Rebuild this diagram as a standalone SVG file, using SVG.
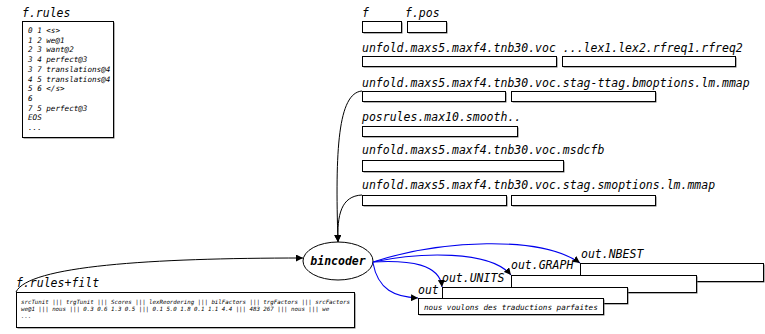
<svg xmlns="http://www.w3.org/2000/svg" width="765" height="334" viewBox="0 0 765 334">
  <style>
    text { font-family: "DejaVu Sans Mono", "Liberation Mono", monospace; font-style: italic; fill: #000; }
    .lbl { font-size: 11.5px; }
    .small { font-size: 7.6px; }
    .tiny { font-size: 5.75px; }
    .shadow { fill: #666; stroke: none; }
    .box { fill: #fff; stroke: #000; stroke-width: 1; }
    .edge { fill: none; stroke: #000; stroke-width: 1; }
    .blue { fill: none; stroke: #0000ee; stroke-width: 1.1; }
  </style>
  <defs>
    <marker id="arrow" viewBox="0 0 10 10" refX="10" refY="5" markerWidth="7" markerHeight="7" markerUnits="userSpaceOnUse" orient="auto">
      <path d="M0,0 L10,5 L0,10 z" fill="#000"/>
    </marker>
  </defs>

  <rect width="765" height="334" fill="#fff"/>

  <!-- source file listing -->
  <g id="f-rules">
    <text class="lbl" x="22" y="16.5">f.rules</text>
    <rect class="shadow" x="23.5" y="22.5" width="91" height="116"/>
    <rect class="box" x="22.5" y="21.5" width="91" height="116"/>
    <text class="small" x="28" y="33">0 1 &lt;s&gt;</text>
    <text class="small" x="28" y="42.7">1 2 we@1</text>
    <text class="small" x="28" y="52.4">2 3 want@2</text>
    <text class="small" x="28" y="62.1">3 4 perfect@3</text>
    <text class="small" x="28" y="71.8">3 7 translations@4</text>
    <text class="small" x="28" y="81.5">4 5 translations@4</text>
    <text class="small" x="28" y="91.2">5 6 &lt;/s&gt;</text>
    <text class="small" x="28" y="100.9">6</text>
    <text class="small" x="28" y="110.6">7 5 perfect@3</text>
    <text class="small" x="28" y="120.3">EOS</text>
    <text class="small" x="28" y="130">...</text>
  </g>

  <!-- input files -->
  <g id="f">
    <text class="lbl" x="362" y="17">f</text>
    <rect class="shadow" x="363.5" y="22.5" width="39" height="11"/>
    <rect class="box" x="362.5" y="21.5" width="39" height="11"/>
  </g>
  <g id="f-pos">
    <text class="lbl" x="405" y="17">f.pos</text>
    <rect class="shadow" x="408.5" y="22.5" width="39" height="11"/>
    <rect class="box" x="407.5" y="21.5" width="39" height="11"/>
  </g>

  <g id="voc">
    <text class="lbl" x="362" y="52">unfold.maxs5.maxf4.tnb30.voc ...lex1.lex2.rfreq1.rfreq2</text>
    <rect class="shadow" x="363.5" y="57.5" width="194" height="10"/>
    <rect class="box" x="362.5" y="56.5" width="194" height="10"/>
    <rect class="shadow" x="563.5" y="57.5" width="173" height="10"/>
    <rect class="box" x="562.5" y="56.5" width="173" height="10"/>
  </g>

  <g id="bmoptions">
    <text class="lbl" x="362" y="87">unfold.maxs5.maxf4.tnb30.voc.stag-ttag.bmoptions.lm.mmap</text>
    <rect class="shadow" x="363.5" y="92.5" width="143" height="10"/>
    <rect class="box" x="362.5" y="91.5" width="143" height="10"/>
    <rect class="shadow" x="512.5" y="92.5" width="144" height="10"/>
    <rect class="box" x="511.5" y="91.5" width="144" height="10"/>
  </g>

  <g id="posrules">
    <text class="lbl" x="362" y="121">posrules.max10.smooth..</text>
    <rect class="shadow" x="363.5" y="127.5" width="155" height="10"/>
    <rect class="box" x="362.5" y="126.5" width="155" height="10"/>
  </g>

  <g id="msdcfb">
    <text class="lbl" x="362" y="154">unfold.maxs5.maxf4.tnb30.voc.msdcfb</text>
    <rect class="shadow" x="363.5" y="161.5" width="201" height="11"/>
    <rect class="box" x="362.5" y="160.5" width="201" height="11"/>
  </g>

  <g id="smoptions">
    <text class="lbl" x="362" y="189">unfold.maxs5.maxf4.tnb30.voc.stag.smoptions.lm.mmap</text>
    <rect class="shadow" x="363.5" y="196.5" width="144" height="10"/>
    <rect class="box" x="362.5" y="195.5" width="144" height="10"/>
    <rect class="shadow" x="512.5" y="196.5" width="144" height="10"/>
    <rect class="box" x="511.5" y="195.5" width="144" height="10"/>
  </g>

  <!-- filtered rule table -->
  <g id="f-rules-filt">
    <text class="lbl" x="16" y="287">f.rules+filt</text>
    <rect class="shadow" x="17.5" y="293.5" width="338" height="35"/>
    <rect class="box" x="16.5" y="292.5" width="338" height="35"/>
    <text class="tiny" x="21" y="304">srcTunit ||| trgTunit ||| Scores ||| lexReordering ||| bilFactors ||| trgFactors ||| srcFactors</text>
    <text class="tiny" x="21" y="311">we@1 ||| nous ||| 0.3 0.6 1.3 0.5 ||| 0.1 5.0 1.8 0.1 1.1 4.4 ||| 483 267 ||| nous ||| we</text>
    <text class="tiny" x="21" y="318">...</text>
  </g>

  <!-- decoder -->
  <g id="bincoder">
    <ellipse cx="338" cy="261" rx="35" ry="19" fill="#fff" stroke="#000" stroke-width="1"/>
    <text class="lbl" x="338" y="265" text-anchor="middle" font-weight="bold">bincoder</text>
  </g>

  <!-- outputs -->
  <g id="out-nbest">
    <text class="lbl" x="581" y="258">out.NBEST</text>
    <rect class="shadow" x="581.5" y="264.5" width="183" height="18"/>
    <rect class="box" x="580.5" y="263.5" width="183" height="18"/>
  </g>
  <g id="out-graph">
    <text class="lbl" x="511" y="269">out.GRAPH</text>
    <rect class="shadow" x="512.5" y="276.5" width="185" height="17"/>
    <rect class="box" x="511.5" y="275.5" width="185" height="17"/>
  </g>
  <g id="out-units">
    <text class="lbl" x="442" y="282">out.UNITS</text>
    <rect class="shadow" x="443.5" y="288.5" width="185" height="16"/>
    <rect class="box" x="442.5" y="287.5" width="185" height="16"/>
  </g>
  <g id="out">
    <text class="lbl" x="418" y="294">out</text>
    <rect class="shadow" x="419.5" y="299.5" width="185" height="16"/>
    <rect class="box" x="418.5" y="298.5" width="185" height="16"/>
    <text class="small" x="424" y="309.5">nous voulons des traductions parfaites</text>
  </g>

  <!-- connectors -->
  <g id="connectors">
    <path class="edge" d="M362,91 C338,93 335,150 338,242" marker-end="url(#arrow)"/>
    <path class="edge" d="M362,195 C341,196 337,215 338,242" marker-end="url(#arrow)"/>
    <path class="edge" d="M16,292 C28,266 150,258 303,258" marker-end="url(#arrow)"/>
    <path class="blue" d="M373,262 C440,240 540,235 580,263" marker-end="url(#arrow)"/>
    <path class="blue" d="M373,262 C420,252 490,250 511,275" marker-end="url(#arrow)"/>
    <path class="blue" d="M373,262 C410,260 440,264 442,287" marker-end="url(#arrow)"/>
    <path class="blue" d="M373,263 C378,290 395,297 418,298" marker-end="url(#arrow)"/>
  </g>
</svg>
